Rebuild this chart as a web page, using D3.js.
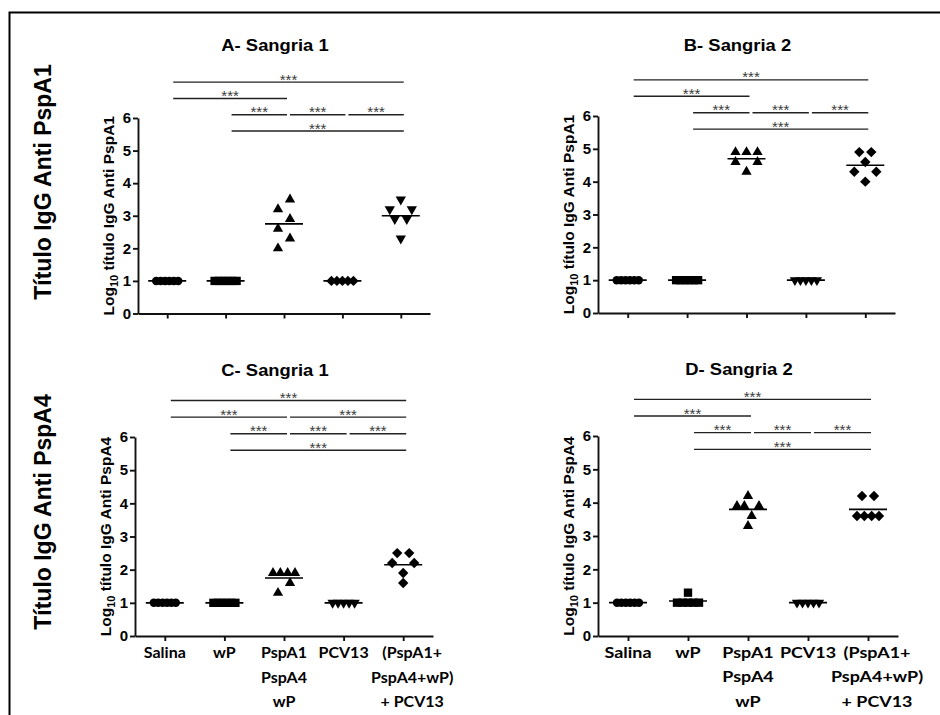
<!DOCTYPE html>
<html>
<head>
<meta charset="utf-8">
<script src="https://cdn.jsdelivr.net/npm/d3@7"></script>
<style>
  body { margin: 0; background: #fff; }
  svg text { font-family: "Liberation Sans", Arial, sans-serif; }
</style>
</head>
<body>
<div id="chart"></div>
<script>
// Anti-PspA IgG titres, 4 panels (GraphPad-like scatter with mean line)

const categories = [
    ["Salina"],
    ["wP"],
    ["PspA1", "PspA4", "wP"],
    ["PCV13"],
    ["(PspA1+", "PspA4+wP)", "+ PCV13"]
];
const yTicks = [0, 1, 2, 3, 4, 5, 6];
const panelTitles = ["A- Sangria 1", "B- Sangria 2", "C- Sangria 1", "D- Sangria 2"];
const yLabelTargets = ["PspA1", "PspA1", "PspA4", "PspA4"];
const rowLabels = ["Título IgG Anti PspA1", "Título IgG Anti PspA4"];

// log10 titres, one list per group
const valuesA = [
    [1, 1, 1, 1, 1, 1],
    [1, 1, 1, 1, 1, 1],
    [3.5, 3.2, 2.9, 2.6, 2.3, 2.0],
    [1, 1, 1, 1, 1],
    [3.5, 3.2, 3.2, 2.9, 2.9, 2.3]
];
const valuesB = [
    [1, 1, 1, 1, 1, 1],
    [1, 1, 1, 1, 1, 1],
    [4.9, 4.9, 4.9, 4.6, 4.6, 4.3],
    [1, 1, 1, 1, 1],
    [4.9, 4.9, 4.6, 4.3, 4.3, 4.0]
];
const valuesC = [
    [1, 1, 1, 1, 1, 1],
    [1, 1, 1, 1, 1, 1],
    [1.9, 1.9, 1.9, 1.9, 1.6, 1.3],
    [1, 1, 1, 1, 1],
    [2.5, 2.5, 2.2, 2.2, 1.9, 1.6]
];
const valuesD = [
    [1, 1, 1, 1, 1, 1],
    [1, 1, 1, 1, 1, 1.3],
    [4.2, 3.9, 3.9, 3.9, 3.6, 3.3],
    [1, 1, 1, 1, 1],
    [4.2, 4.2, 3.6, 3.6, 3.6, 3.6]
];

const markersA = ["circle", "square", "triangle", "diamond", "triangleDown"];
const markersBCD = ["circle", "square", "triangle", "triangleDown", "diamond"];

// significance bars: [from group, to group, level in log10 units]
const sigLabel = "***";
const comparisonsABD = [[0, 4, 7.1], [0, 2, 6.6], [1, 2, 6.1], [2, 3, 6.1], [3, 4, 6.1], [1, 4, 5.6]];
const comparisonsC = [[0, 4, 7.1], [0, 2, 6.6], [2, 4, 6.6], [1, 2, 6.1], [2, 3, 6.1], [3, 4, 6.1], [1, 4, 5.6]];

const width = 940;
const height = 715;

const svg = d3.select("#chart")
    .append("svg")
    .attr("width", width)
    .attr("height", height);

// outer frame (runs off the right and bottom edge)
svg.append("rect")
    .attr("x", 9.5).attr("y", 12.5)
    .attr("width", 1000).attr("height", 1000)
    .attr("fill", "none")
    .attr("stroke", "#000")
    .attr("stroke-width", 2);

// big row labels
const rowLabelY = [182, 512];
rowLabels.forEach((t, i) => {
    svg.append("text")
        .attr("transform", `translate(51,${rowLabelY[i]}) rotate(-90)`)
        .attr("text-anchor", "middle")
        .attr("font-size", 23)
        .attr("font-weight", "bold")
        .text(t);
});

const panels = [
    { title: panelTitles[0], target: yLabelTargets[0], values: valuesA, markers: markersA, comps: comparisonsABD,
      x0: 138, x1: 430, yTop: 118, yBot: 313.5, titleY: 51, xLabels: false, stretch: 1 },
    { title: panelTitles[1], target: yLabelTargets[1], values: valuesB, markers: markersBCD, comps: comparisonsABD,
      x0: 598, x1: 895, yTop: 116, yBot: 313, titleY: 51, xLabels: false, stretch: 1 },
    { title: panelTitles[2], target: yLabelTargets[2], values: valuesC, markers: markersBCD, comps: comparisonsC,
      x0: 135, x1: 433, yTop: 437, yBot: 636, titleY: 376, xLabels: true, stretch: 1 },
    { title: panelTitles[3], target: yLabelTargets[3], values: valuesD, markers: markersBCD, comps: comparisonsABD,
      x0: 598, x1: 898, yTop: 436, yBot: 636, titleY: 375, xLabels: true, stretch: 1.12 }
];

const symbols = {
    circle: { type: d3.symbolCircle, size: 56, rotate: 0 },
    square: { type: d3.symbolSquare, size: 70, rotate: 0 },
    triangle: { type: d3.symbolTriangle, size: 46, rotate: 0 },
    triangleDown: { type: d3.symbolTriangle, size: 46, rotate: 180 },
    diamond: { type: d3.symbolSquare, size: 54, rotate: 45 }
};

// spread points of a group horizontally, row by row (like GraphPad scatter)
function spread(vals) {
    const bins = d3.group(vals.map((v, i) => ({ v, i })), d => Math.floor((d.v + 0.05) / 0.6));
    const dx = vals.map(() => 0);
    for (const [, pts] of bins) {
        const k = pts.length;
        if (k === 1) continue;
        const gap = Math.min(12, 22 / (k - 1));
        const count = v => pts.filter(p => p.v === v).length;
        const sorted = pts.slice().sort((a, b) => count(b.v) - count(a.v) || a.v - b.v);
        const slots = d3.range(k).map(j => (j - (k - 1) / 2) * gap)
            .sort((a, b) => Math.abs(b) - Math.abs(a) || a - b);
        sorted.forEach((p, j) => { dx[p.i] = slots[j]; });
    }
    return dx;
}

panels.forEach(p => {
    const g = svg.append("g");

    const x = d3.scalePoint()
        .domain(d3.range(categories.length))
        .range([p.x0, p.x1])
        .padding(0.5);

    const y = d3.scaleLinear()
        .domain([0, 6])
        .range([p.yBot, p.yTop]);

    // title (slightly stretched, as in the pasted panels)
    g.append("text")
        .attr("transform", `translate(${(p.x0 + p.x1) / 2 - 9},${p.titleY}) scale(1.15,1)`)
        .attr("text-anchor", "middle")
        .attr("font-size", 16)
        .attr("font-weight", "bold")
        .text(p.title);

    // y axis
    const yAxis = g.append("g")
        .attr("transform", `translate(${p.x0},0)`)
        .call(d3.axisLeft(y).tickValues(yTicks).tickFormat(d3.format("d"))
            .tickSize(5).tickSizeOuter(0).tickPadding(2));
    yAxis.selectAll("text")
        .attr("font-family", "Liberation Sans, Arial, sans-serif")
        .attr("font-size", 15)
        .attr("font-weight", "bold")
        .attr("fill", "#000");

    // x axis
    g.append("g")
        .attr("transform", `translate(0,${p.yBot})`)
        .call(d3.axisBottom(x).tickFormat("").tickSize(5).tickSizeOuter(0));

    g.selectAll(".domain, .tick line")
        .attr("stroke", "#111")
        .attr("stroke-width", 1.9);

    // y label with subscript
    const yl = g.append("text")
        .attr("transform", `translate(${p.x0 - 24},${(p.yTop + p.yBot) / 2}) rotate(-90)`)
        .attr("text-anchor", "middle")
        .attr("font-size", 15.5)
        .attr("font-weight", "bold");
    yl.append("tspan").text("Log");
    yl.append("tspan").attr("font-size", 11).attr("dy", 3.5).text("10");
    yl.append("tspan").attr("dy", -3.5).text(" título IgG Anti " + p.target);

    // category labels
    if (p.xLabels) {
        categories.forEach((lines, i) => {
            const cx = x(i) + (i === 4 ? 9 : 0);
            const t = g.append("text")
                .attr("transform", `translate(${cx},${p.yBot + 22}) scale(${p.stretch},1)`)
                .attr("text-anchor", "middle")
                .attr("font-size", 16)
                .attr("font-weight", "bold")
                .style("font-family", "Lato, 'Open Sans', sans-serif");
            lines.forEach((s, j) => {
                t.append("tspan")
                    .attr("x", 0)
                    .attr("y", j * 24.5)
                    .text(s);
            });
        });
    }

    // significance bars
    const bars = g.selectAll(".sig")
        .data(p.comps)
        .enter()
        .append("g");
    bars.append("line")
        .attr("x1", d => x(d[0]) + 6)
        .attr("x2", d => x(d[1]) + 3)
        .attr("y1", d => y(d[2]))
        .attr("y2", d => y(d[2]))
        .attr("stroke", "#222")
        .attr("stroke-width", 1.4);
    bars.append("text")
        .attr("x", d => (x(d[0]) + x(d[1])) / 2 + 4.5)
        .attr("y", d => y(d[2]) + 2.5)
        .attr("text-anchor", "middle")
        .attr("font-size", 15)
        .attr("fill", "#3a3a3a")
        .text(sigLabel);

    // points and mean lines
    p.values.forEach((vals, gi) => {
        const sym = symbols[p.markers[gi]];
        const dx = spread(vals);
        g.selectAll(null)
            .data(vals)
            .enter()
            .append("path")
            .attr("d", d3.symbol(sym.type, sym.size))
            .attr("transform", (d, i) => `translate(${x(gi) + dx[i]},${y(d)}) rotate(${sym.rotate})`)
            .attr("fill", "#000");

        const m = d3.mean(vals);
        g.append("line")
            .attr("x1", x(gi) - 19)
            .attr("x2", x(gi) + 19)
            .attr("y1", y(m))
            .attr("y2", y(m))
            .attr("stroke", "#000")
            .attr("stroke-width", 1.6);
    });
});
</script>
</body>
</html>
